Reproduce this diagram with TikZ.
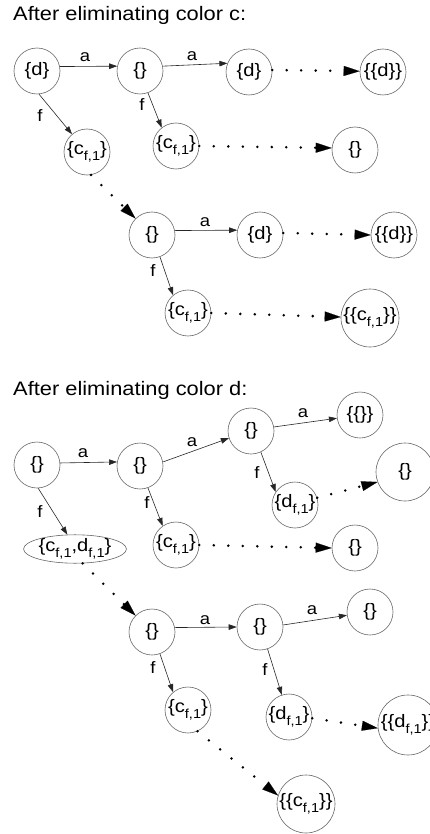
\documentclass[tikz,border=0pt]{standalone}
\usepackage{fontspec}
\setmainfont{Liberation Sans}[FakeStretch=1.12]
\usetikzlibrary{arrows.meta,shapes.geometric}

% lowered index, as in c_{f,1}
\newcommand\lowidx[1]{\raisebox{-0.3em}{\fontsize{13}{13}\selectfont #1}}

\begin{document}
\begin{tikzpicture}[x=1pt,y=-1pt,
  state/.style={circle,draw=black!60,line width=0.6pt,inner sep=0pt,
    minimum size=46pt,font=\fontsize{18}{18}\selectfont},
  bigstate/.style={state,minimum size=58pt},
  lbl/.style={font=\fontsize{16.5}{16.5}\selectfont,inner sep=0pt},
  heading/.style={font=\fontsize{19.5}{20}\selectfont,anchor=base west,inner sep=0pt},
  trans/.style={draw=black!85,line width=0.6pt,-{Triangle[length=8pt,width=5.5pt]}},
  follow/.style={draw=black,line width=2.8pt,line cap=round,
    dash pattern=on 0pt off 14.5pt,
    -{Triangle[length=16pt,width=10pt,line width=0.1pt]}},
]
\useasboundingbox (0,0) rectangle (430,834);

% ---------- first graph ----------
\node[heading] (t1) at (13,20.7) {After eliminating color c:};

\node[state] (n1) at (37,71) {\{d\}};
\node[state] (n2) at (140,71) {\{\}};
\node[state] (n3) at (249,72) {\{d\}};
\node[state] (n4) at (383,72) {\{\{d\}\}};
\node[state] (n5) at (87,152) {\{c\lowidx{f,1}\}};
\node[state] (n6) at (176,146) {\{c\lowidx{f,1}\}};
\node[state] (n7) at (355,150) {\{\}};
\node[state] (n8) at (152,235) {\{\}};
\node[state] (n9) at (260,235) {\{d\}};
\node[state] (n10) at (394,235) {\{\{d\}\}};
\node[state] (n11) at (188,313) {\{c\lowidx{f,1}\}};
\node[bigstate] (n12) at (370,318) {\{\{c\lowidx{f,1}\}\}};

\draw[trans] (n1.11) -- (n2.168) node[lbl] at (85,57) {a};
\draw[trans] (n2.12) -- (n3.158) node[lbl] at (192,56) {a};
\draw[trans] (n1.-85) -- (n5.130) node[lbl] at (40,116) {f};
\draw[trans] (n2.-70) -- (n6.128) node[lbl] at (142,105) {f};
\draw[trans] (n8.11) -- (n9.168) node[lbl] at (205,222) {a};
\draw[trans] (n8.-70) -- (n11.130) node[lbl] at (153,271) {f};

\draw[follow] (n3.5) -- (n4.178);
\draw[follow] (n6.0) -- (n7.175);
\draw[follow] (n5.-80) -- (n8.135);
\draw[follow] (n9.5) -- (n10.180);
\draw[follow] (n11.0) -- (n12.178);

% ---------- second graph ----------
\node[heading] (t2) at (13,395) {After eliminating color d:};

\node[state] (m1) at (37,465) {\{\}};
\node[state] (m2) at (140,466) {\{\}};
\node[state] (m3) at (251,431) {\{\}};
\node[state] (m4) at (360,415) {\{\{\}\}};
\node[bigstate] (m5) at (405,472) {\{\}};
\node[state] (m6) at (295,505) {\{d\lowidx{f,1}\}};
\node[ellipse,draw=black!60,line width=0.6pt,inner sep=0pt,minimum width=93pt,
  minimum height=26pt,font=\fontsize{18}{18}\selectfont]
  (m7) at (75,549) {\{c\lowidx{f,1},d\lowidx{f,1}\}};
\node[state] (m8) at (176,545) {\{c\lowidx{f,1}\}};
\node[state] (m9) at (355,548) {\{\}};
\node[state] (m10) at (152,632) {\{\}};
\node[state] (m11) at (260,627) {\{\}};
\node[state] (m12) at (370,612) {\{\}};
\node[state] (m13) at (188,710) {\{c\lowidx{f,1}\}};
\node[state] (m14) at (289,717) {\{d\lowidx{f,1}\}};
\node[bigstate,minimum size=60pt] (m15) at (408,725) {\{\{d\lowidx{f,1}\}\}};
\node[bigstate] (m16) at (306,804) {\{\{c\lowidx{f,1}\}\}};

\draw[trans] (m1.5) -- (m2.170) node[lbl] at (83,453) {a};
\draw[trans] (m2.10) -- (m3.198) node[lbl] at (192,442) {a};
\draw[trans] (m3.10) -- (m4.188) node[lbl] at (303,413) {a};
\draw[trans] (m3.-65) -- (m6.146) node[lbl] at (257,473) {f};
\draw[trans] (m1.-87) -- (m7.118) node[lbl] at (40,512) {f};
\draw[trans] (m2.-70) -- (m8.125) node[lbl] at (147,503) {f};
\draw[trans] (m10.11) -- (m11.180) node[lbl] at (205,620) {a};
\draw[trans] (m11.5) -- (m12.188) node[lbl] at (312,610) {a};
\draw[trans] (m10.-70) -- (m13.130) node[lbl] at (153,668) {f};
\draw[trans] (m11.-71) -- (m14.108) node[lbl] at (265,670) {f};

\draw[follow] (m6.18) -- (m5.200);
\draw[follow] (m8.0) -- (m9.180);
\draw[follow] (m7.-62) -- (m10.135);
\draw[follow] (m14.-3) -- (m15.186);
\draw[follow] (m13.-66) -- (m16.163);
\end{tikzpicture}
\end{document}
